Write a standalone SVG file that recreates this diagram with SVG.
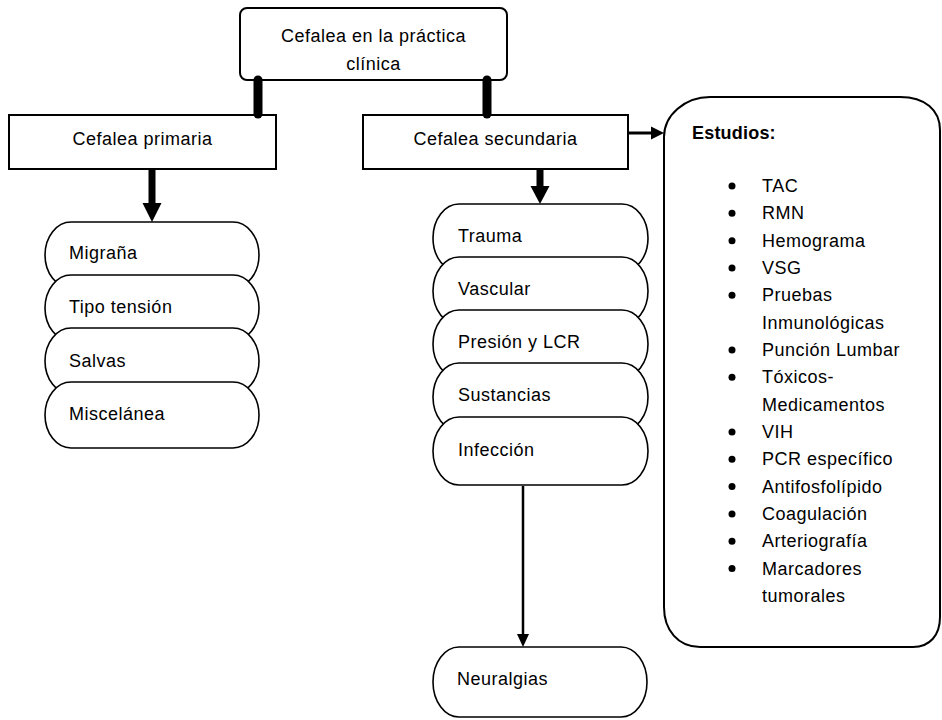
<svg xmlns="http://www.w3.org/2000/svg" width="942" height="720" viewBox="0 0 942 720">
  <style>
    .box { fill: #ffffff; stroke: #000000; stroke-width: 2; }
    .pill { fill: #ffffff; stroke: #000000; stroke-width: 1.6; }
    .t { font-family: "Liberation Sans", Arial, sans-serif; font-size: 18px; fill: #000000; letter-spacing: 0.5px; }
    .c { text-anchor: middle; }
    .b { font-weight: bold; letter-spacing: 0.2px; }
    .thick { stroke: #000000; stroke-width: 9; stroke-linecap: round; fill: none; }
    .shaft { stroke: #000000; fill: none; }
    .head { fill: #000000; stroke: none; }
  </style>

  <!-- top node -->
  <g id="node-cefalea">
    <rect class="box" x="240" y="8" width="267" height="72" rx="7"/>
    <text class="t c" x="373.5" y="42">Cefalea en la práctica</text>
    <text class="t c" x="373.5" y="70">clínica</text>
  </g>

  <g id="node-primaria">
    <rect class="box" x="9" y="115" width="267" height="54"/>
    <text class="t c" x="142.5" y="145">Cefalea primaria</text>
  </g>

  <g id="node-secundaria">
    <rect class="box" x="363" y="115" width="265" height="54"/>
    <text class="t c" x="495.5" y="145">Cefalea secundaria</text>
  </g>

  <!-- primary headache types -->
  <g id="node-migrana">
    <rect class="pill" x="45" y="222" width="214" height="66" rx="26" ry="33"/>
    <text class="t" x="69" y="259">Migraña</text>
  </g>
  <g id="node-tension">
    <rect class="pill" x="45" y="275" width="214" height="66" rx="26" ry="33"/>
    <text class="t" x="69" y="313">Tipo tensión</text>
  </g>
  <g id="node-salvas">
    <rect class="pill" x="45" y="328" width="214" height="66" rx="26" ry="33"/>
    <text class="t" x="69" y="367">Salvas</text>
  </g>
  <g id="node-miscelanea">
    <rect class="pill" x="45" y="382" width="214" height="66" rx="26" ry="33"/>
    <text class="t" x="69" y="420">Miscelánea</text>
  </g>

  <!-- secondary headache causes -->
  <g id="node-trauma">
    <rect class="pill" x="433" y="204" width="215" height="68" rx="26" ry="34"/>
    <text class="t" x="458" y="242">Trauma</text>
  </g>
  <g id="node-vascular">
    <rect class="pill" x="433" y="257" width="215" height="68" rx="26" ry="34"/>
    <text class="t" x="458" y="295">Vascular</text>
  </g>
  <g id="node-presion">
    <rect class="pill" x="433" y="310" width="215" height="68" rx="26" ry="34"/>
    <text class="t" x="458" y="348">Presión y LCR</text>
  </g>
  <g id="node-sustancias">
    <rect class="pill" x="433" y="363" width="215" height="68" rx="26" ry="34"/>
    <text class="t" x="458" y="401">Sustancias</text>
  </g>
  <g id="node-infeccion">
    <rect class="pill" x="433" y="417" width="215" height="68" rx="26" ry="34"/>
    <text class="t" x="458" y="456">Infección</text>
  </g>
  <g id="node-neuralgias">
    <rect class="pill" x="433" y="647" width="214" height="70" rx="26" ry="35"/>
    <text class="t" x="457" y="685">Neuralgias</text>
  </g>

  <!-- studies panel -->
  <g id="node-estudios">
    <path class="box" d="M710,97 H900 C925,97 940,110 940,130 V617 C940,635 930,647 913,647 H700 C678,647 664,630 664,607 V137 C664,115 685,97 710,97 Z"/>
    <text class="t b" x="692" y="139">Estudios:</text>
    <g class="bullets">
      <circle cx="732" cy="186" r="3.5"/>
      <circle cx="732" cy="213.3" r="3.5"/>
      <circle cx="732" cy="240.7" r="3.5"/>
      <circle cx="732" cy="268" r="3.5"/>
      <circle cx="732" cy="295.3" r="3.5"/>
      <circle cx="732" cy="350" r="3.5"/>
      <circle cx="732" cy="377.3" r="3.5"/>
      <circle cx="732" cy="432" r="3.5"/>
      <circle cx="732" cy="459.3" r="3.5"/>
      <circle cx="732" cy="486.6" r="3.5"/>
      <circle cx="732" cy="514" r="3.5"/>
      <circle cx="732" cy="541.3" r="3.5"/>
      <circle cx="732" cy="568.6" r="3.5"/>
    </g>
    <text class="t" x="762" y="192">TAC</text>
    <text class="t" x="762" y="219.3">RMN</text>
    <text class="t" x="762" y="246.7">Hemograma</text>
    <text class="t" x="762" y="274">VSG</text>
    <text class="t" x="762" y="301.3">Pruebas</text>
    <text class="t" x="762" y="328.7">Inmunológicas</text>
    <text class="t" x="762" y="356">Punción Lumbar</text>
    <text class="t" x="762" y="383.3">Tóxicos-</text>
    <text class="t" x="762" y="410.6">Medicamentos</text>
    <text class="t" x="762" y="438">VIH</text>
    <text class="t" x="762" y="465.3">PCR específico</text>
    <text class="t" x="762" y="492.6">Antifosfolípido</text>
    <text class="t" x="762" y="520">Coagulación</text>
    <text class="t" x="762" y="547.3">Arteriografía</text>
    <text class="t" x="762" y="574.6">Marcadores</text>
    <text class="t" x="762" y="602">tumorales</text>
  </g>

  <!-- connectors, drawn last so the rounded ends sit over the box edges -->
  <g id="connectors">
    <line class="thick" x1="258" y1="80" x2="258" y2="114"/>
    <line class="thick" x1="487" y1="80" x2="487" y2="114"/>
    <line class="shaft" stroke-width="7" x1="152" y1="169" x2="152" y2="205"/>
    <polygon class="head" points="142.5,203 161.5,203 152,222"/>
    <line class="shaft" stroke-width="7" x1="540" y1="169" x2="540" y2="188"/>
    <polygon class="head" points="530.5,186 549.5,186 540,204"/>
    <line class="shaft" stroke-width="3" x1="628" y1="133" x2="653" y2="133"/>
    <polygon class="head" points="651,126.5 651,139.5 664,133"/>
    <line class="shaft" stroke-width="2.5" x1="523" y1="486" x2="523" y2="636"/>
    <polygon class="head" points="517,634 529,634 523,647"/>
  </g>
</svg>
